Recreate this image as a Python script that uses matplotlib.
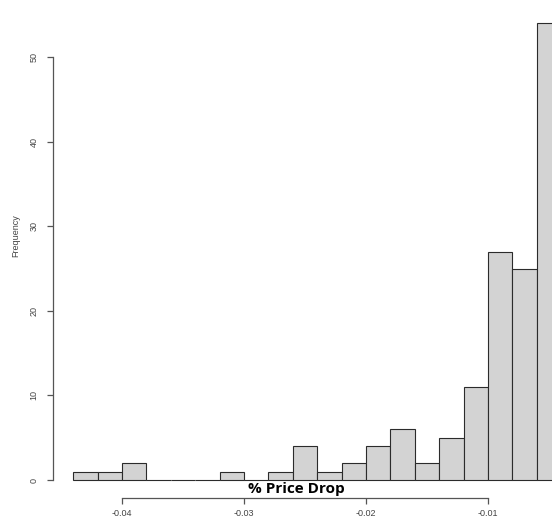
import matplotlib.pyplot as plt

# histogram bins (left edges, width 0.002) and counts
bin_left = [-0.044, -0.042, -0.040, -0.038, -0.036, -0.034, -0.032, -0.030,
            -0.028, -0.026, -0.024, -0.022, -0.020, -0.018, -0.016, -0.014,
            -0.012, -0.010, -0.008, -0.006]
counts = [1, 1, 2, 0, 0, 0, 1, 0,
          1, 4, 1, 2, 4, 6, 2, 5,
          11, 27, 25, 54]
bin_width = 0.002

x_ticks = [-0.04, -0.03, -0.02, -0.01]
x_tick_labels = ["-0.04", "-0.03", "-0.02", "-0.01"]
y_ticks = [0, 10, 20, 30, 40, 50]

fig = plt.figure(figsize=(5.52, 5.19), dpi=100)
ax = fig.add_axes([0, 0, 1, 1])

ax.bar(bin_left, counts, width=bin_width, align="edge",
       color="#d3d3d3", edgecolor="#2b2b2b", linewidth=0.8, zorder=2)

ax.set_xlim(-0.05, -0.004754)
ax.set_ylim(-4.61, 56.74)

# R-style detached axes
axis_col = "#555555"
for side in ("top", "right"):
    ax.spines[side].set_visible(False)
ax.spines["left"].set_position(("data", -0.04566))
ax.spines["left"].set_bounds(0, 50)
ax.spines["bottom"].set_position(("data", -2.13))
ax.spines["bottom"].set_bounds(-0.04, -0.01)
for side in ("left", "bottom"):
    ax.spines[side].set_color(axis_col)
    ax.spines[side].set_linewidth(0.9)

ax.set_xticks(x_ticks)
ax.set_xticklabels(x_tick_labels)
ax.set_yticks(y_ticks)
ax.set_yticklabels([str(v) for v in y_ticks], rotation=90, va="center")
ax.tick_params(axis="both", direction="out", length=4.5, width=0.9,
               color=axis_col, labelcolor="#444444", labelsize=6.5,
               labelfontfamily="Liberation Sans")
ax.tick_params(axis="y", pad=6)
ax.tick_params(axis="x", pad=3.5)

ax.text(16 / 552, 1 - 236 / 519, "Frequency", transform=ax.transAxes,
        rotation=90, ha="center", va="center", fontsize=6.5, color="#444444",
        family="Liberation Sans")
ax.text(296 / 552, 1 - 489 / 519, "% Price Drop", transform=ax.transAxes,
        ha="center", va="center", fontsize=11, fontweight="bold",
        color="black", family="Open Sans")

fig.savefig("out.png", dpi=100)
